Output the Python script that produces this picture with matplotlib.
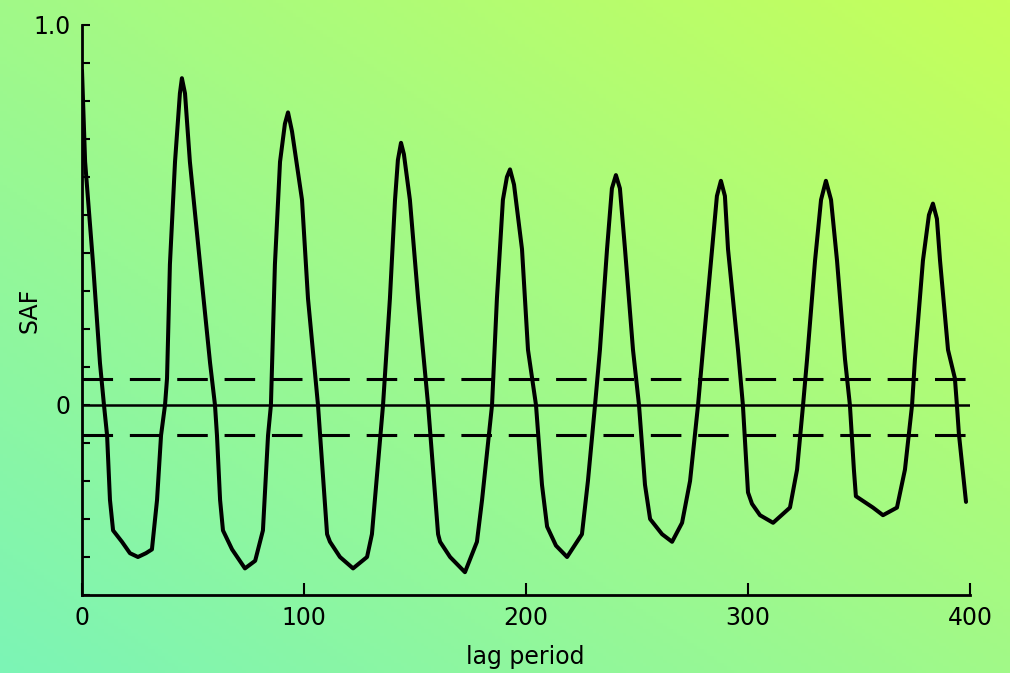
import matplotlib.pyplot as plt
import numpy as np

# sample autocorrelation
lag = [0, 1.4, 5.0, 8.1, 9.9, 11.3, 12.6, 14.0, 18.0, 21.6, 25.2, 28.8, 31.5, 33.8, 35.6, 37.4, 38.3, 39.6,
       41.9, 44.1, 45.0, 46.4, 48.6, 53.2, 57.7, 59.9, 60.8, 62.2, 63.5, 67.6, 73.4, 78.0, 81.5, 83.8, 85.1,
       86.9, 89.2, 91.4, 92.8, 94.6, 99.1, 101.8, 106.3, 110.4, 111.7, 116.2, 122.1, 128.4, 130.6, 135.6,
       138.7, 141.0, 142.3, 143.7, 145.0, 147.7, 151.4, 155.9, 160.4, 161.3, 165.8, 172.5, 177.9, 180.2,
       184.7, 186.9, 189.6, 191.4, 192.8, 194.6, 198.2, 200.9, 204.5, 207.2, 209.5, 213.5, 218.5, 225.2,
       227.9, 231.1, 233.3, 236.5, 238.7, 240.5, 242.3, 244.6, 248.2, 250.9, 253.6, 255.9, 261.3, 265.8,
       270.3, 273.9, 277.5, 279.7, 283.8, 286.0, 287.8, 289.6, 291.0, 295.5, 297.7, 300.0, 301.8, 305.4,
       311.3, 318.9, 322.1, 324.8, 326.6, 330.2, 332.9, 335.1, 337.4, 340.1, 343.7, 345.9, 347.7, 348.6,
       356.3, 360.8, 367.1, 370.7, 373.9, 375.2, 378.8, 381.5, 383.3, 385.1, 386.5, 390.1, 393.2, 394.1,
       395.0, 398.2]
saf = [0.88, 0.64, 0.37, 0.11, 0.00, -0.08, -0.25, -0.33, -0.36, -0.39, -0.40, -0.39, -0.38, -0.25, -0.08,
       0.00, 0.07, 0.37, 0.64, 0.82, 0.86, 0.82, 0.64, 0.37, 0.11, 0.00, -0.08, -0.25, -0.33, -0.38, -0.43,
       -0.41, -0.33, -0.08, 0.00, 0.37, 0.64, 0.74, 0.77, 0.72, 0.54, 0.28, 0.00, -0.34, -0.36, -0.40, -0.43,
       -0.40, -0.34, 0.00, 0.28, 0.54, 0.645, 0.69, 0.66, 0.54, 0.28, 0.00, -0.34, -0.36, -0.40, -0.44, -0.36,
       -0.25, 0.00, 0.28, 0.54, 0.60, 0.62, 0.58, 0.41, 0.145, 0.00, -0.21, -0.32, -0.37, -0.40, -0.34, -0.20,
       0.00, 0.145, 0.41, 0.57, 0.605, 0.57, 0.41, 0.145, 0.00, -0.21, -0.30, -0.34, -0.36, -0.31, -0.20, 0.00,
       0.145, 0.41, 0.55, 0.59, 0.55, 0.41, 0.145, 0.00, -0.23, -0.26, -0.29, -0.31, -0.27, -0.17, 0.00, 0.12,
       0.38, 0.54, 0.59, 0.54, 0.38, 0.12, 0.00, -0.17, -0.24, -0.27, -0.29, -0.27, -0.17, 0.00, 0.12, 0.38,
       0.50, 0.53, 0.49, 0.38, 0.145, 0.07, 0.00, -0.076, -0.255]

band_hi = 0.068
band_lo = -0.078

fig = plt.figure(figsize=(10.1, 6.73), dpi=100)

# diagonal gradient background
bg = fig.add_axes([0, 0, 1, 1], zorder=-1)
gx, gy = np.meshgrid(np.linspace(0, 1, 300), np.linspace(0, 1, 200))
t = (gx + gy) / 2
c0 = np.array([124, 244, 182]) / 255
c1 = np.array([198, 255, 90]) / 255
img = c0 + t[..., None] * (c1 - c0)
bg.imshow(img, origin="lower", extent=[0, 1, 0, 1], aspect="auto")
bg.axis("off")

ax = fig.add_axes([82 / 1010, 1 - 595 / 673, 888 / 1010, 570 / 673])
ax.patch.set_alpha(0)

ax.plot(lag, saf, color="black", lw=2.9, solid_joinstyle="round", solid_capstyle="round")
ax.plot([0, 400], [0, 0], color="black", lw=1.8)
ax.plot([0, 399], [band_hi, band_hi], color="black", lw=2.2, dashes=(10, 5.5))
ax.plot([0, 401], [band_lo, band_lo], color="black", lw=2.2, dashes=(10, 5.5))

ax.set_xlim(0, 400)
ax.set_ylim(-0.5, 1.0)
for s in ["top", "right"]:
    ax.spines[s].set_visible(False)
for s in ["left", "bottom"]:
    ax.spines[s].set_linewidth(2)

yt = np.round(np.arange(-0.5, 1.01, 0.1), 1)
ax.set_yticks(yt)
ax.set_yticklabels(["1.0" if v == 1.0 else ("0" if v == 0 else "") for v in yt])
ax.set_xticks([0, 100, 200, 300, 400])
ax.set_xticklabels(["0", "100", "200", "300", "400"])
ax.tick_params(axis="y", direction="in", length=6, width=1.5, pad=8, labelsize=17)
ax.tick_params(axis="x", direction="in", length=9, width=1.5, pad=8, labelsize=17)

fig.text(30 / 1010, 1 - 310 / 673, "SAF", rotation=90, ha="center", va="center", fontsize=17)
fig.text(525 / 1010, 1 - 657 / 673, "lag period", ha="center", va="center", fontsize=17)

fig.savefig("out.png", dpi=100)
